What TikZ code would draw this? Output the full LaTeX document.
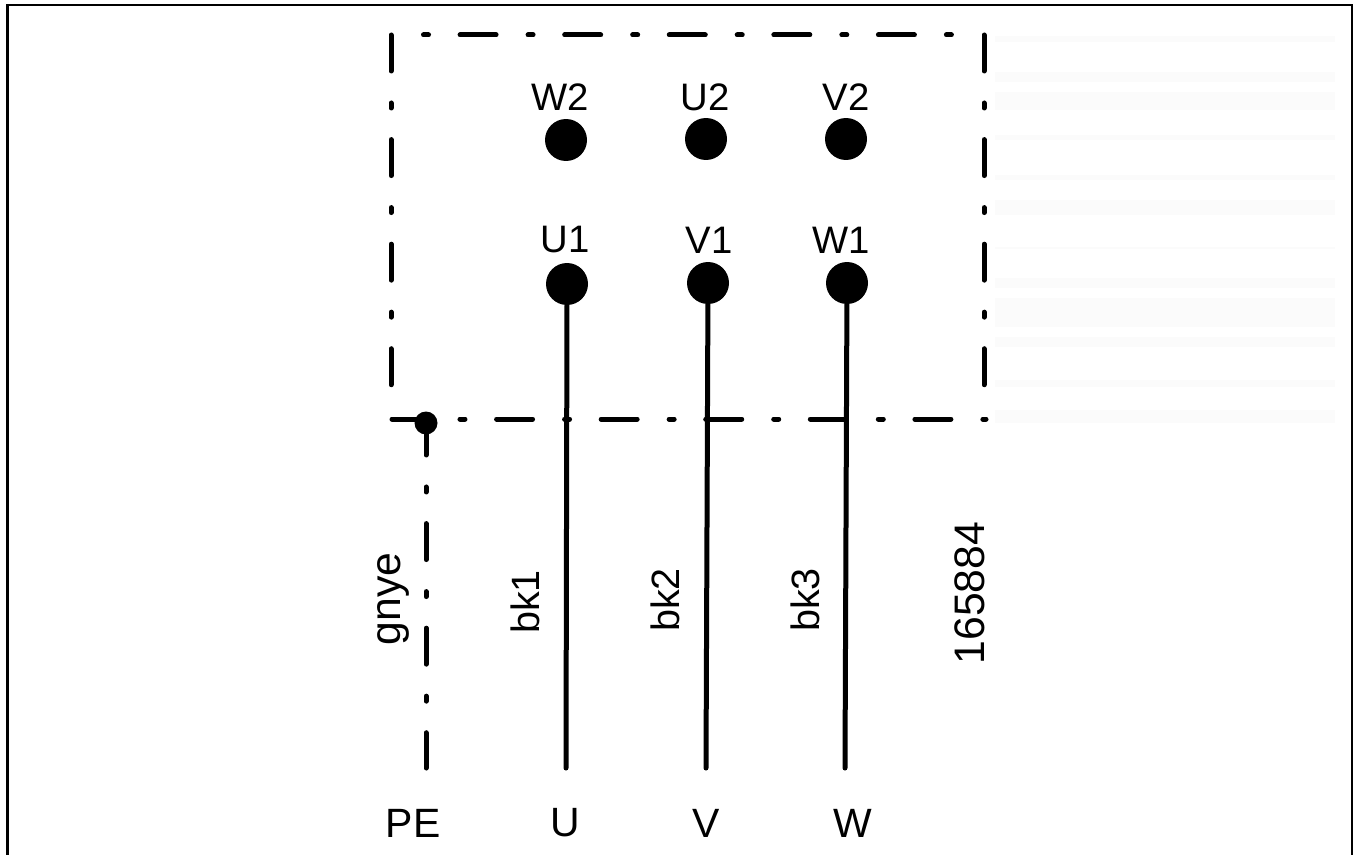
\documentclass[tikz,border=0pt]{standalone}
\usepackage{fontspec}
\setmainfont{Liberation Sans}
\tikzset{
  terminal/.style={circle, fill=black, inner sep=0pt, minimum size=0.84cm},
  earthdot/.style={circle, fill=black, inner sep=0pt, minimum size=0.46cm},
  wire/.style={line width=0.1cm, line cap=round},
  chain/.style={line width=0.1cm, line cap=round, dash pattern=on 0.72cm off 0.64cm on 0.1cm off 0.632cm},
  chaindot/.style={line width=0.1cm, line cap=round, dash pattern=on 0.1cm off 0.632cm on 0.72cm off 0.64cm},
  lbl/.style={inner sep=0pt, font=\fontsize{21.8}{24}\selectfont},
  biglbl/.style={inner sep=0pt, font=\fontsize{23.3}{26}\selectfont},
  sidelbl/.style={inner sep=0pt, rotate=90, font=\fontsize{22.5}{26}\selectfont},
  bigside/.style={inner sep=0pt, rotate=90, font=\fontsize{24.3}{28}\selectfont},
  band/.style={fill=black!1.5, draw=none}
}
\begin{document}
\begin{tikzpicture}[x=0.02cm, y=-0.02cm]
\useasboundingbox (0,0) rectangle (1356,855);
% faint stripes right of the box
\foreach \a/\b in {36/42,72/82,92/110,135/140,175/180,200/215,247/249,278/288,298/327,337/347,380/387,410/423}
\fill[band] (995,\a) rectangle (1335,\b);
% outer frame, open at the bottom
\draw[line width=0.045cm] (7.5,855) -- (7.5,5) -- (1352,5) -- (1352,855);
% box corners
\coordinate (boxTL) at (391,35);
\coordinate (boxBL) at (391,390);
\coordinate (boxTR) at (984,35);
\coordinate (boxBR) at (984,390);
\coordinate (topA) at (423.5,35);
\coordinate (topB) at (952,35);
\coordinate (botA) at (392,419);
\coordinate (botB) at (986,419);
\draw[chain] (boxTL) -- (boxBL);
\draw[chain] (boxTR) -- (boxBR);
\draw[chaindot] (topA) -- (topB);
\draw[chain] (botA) -- (botB);
% terminals
\node[terminal] (W2) at (566,140) {};
\node[terminal] (U2) at (706,139) {};
\node[terminal] (V2) at (846,139) {};
\node[terminal] (U1) at (567,284) {};
\node[terminal] (V1) at (708,283) {};
\node[terminal] (W1) at (847,283) {};
\node[lbl] (W2lbl) at (560,97) {W2};
\node[lbl] (U2lbl) at (705,97) {U2};
\node[lbl] (V2lbl) at (846,97) {V2};
\node[lbl] (U1lbl) at (565,240) {U1};
\node[lbl] (V1lbl) at (709,240) {V1};
\node[lbl] (W1lbl) at (841,240) {W1};
% wires
\coordinate (Uend) at (566,768);
\coordinate (Vend) at (706,768);
\coordinate (Wend) at (845,768);
\draw[wire] (U1) -- (Uend);
\draw[wire] (V1) -- (Vend);
\draw[wire] (W1) -- (Wend);
% earth
\node[earthdot] (PEdot) at (426,423) {};
\coordinate (PEtop) at (426,419);
\coordinate (PEend) at (426,768);
\draw[chain] (PEtop) -- (PEend);
\node[biglbl] (PElbl) at (413,823) {PE};
\node[biglbl] (Ulbl) at (565,823) {U};
\node[biglbl] (Vlbl) at (706,823) {V};
\node[biglbl] (Wlbl) at (853,823) {W};
\node[bigside] (gnye) at (393,599) {gnye};
\node[sidelbl] (bk1) at (525,602) {bk1};
\node[sidelbl] (bk2) at (665,600) {bk2};
\node[sidelbl] (bk3) at (805,600) {bk3};
\node[bigside] (code) at (970,593) {165884};
\end{tikzpicture}
\end{document}
